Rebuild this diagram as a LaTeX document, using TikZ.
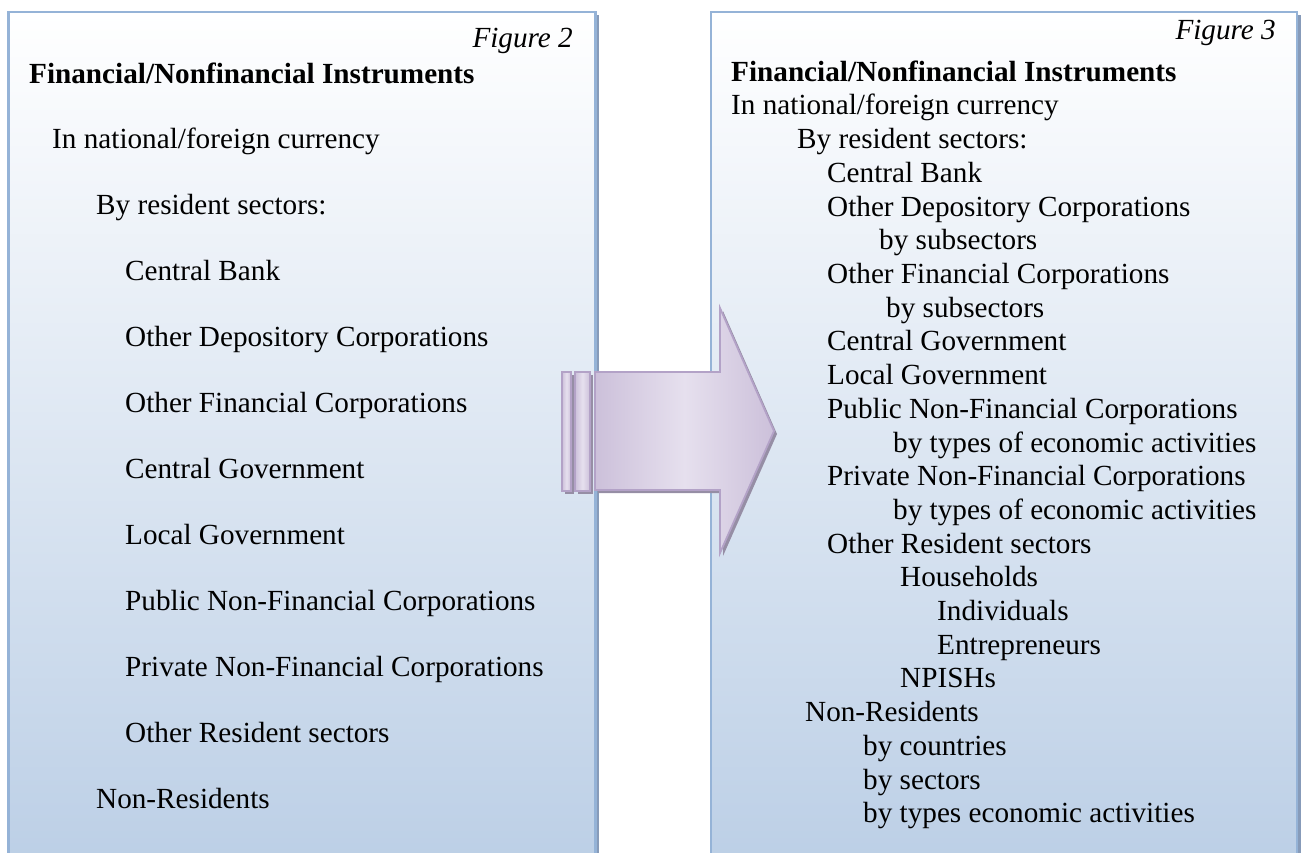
\documentclass[tikz,border=0pt]{standalone}
\usepackage{fontspec}
\setmainfont{Liberation Serif}
\definecolor{panelborder}{RGB}{149,179,215}
\definecolor{panelbot}{RGB}{185,205,229}
\definecolor{panelshadow}{RGB}{135,155,185}
\definecolor{arrowborder}{RGB}{179,162,199}
\definecolor{arrowlight}{RGB}{230,224,238}
\definecolor{arrowdark}{RGB}{204,192,218}
\definecolor{arrowshadow}{RGB}{150,142,165}
\tikzset{
  txt/.style={anchor=base west, inner sep=0pt, font=\fontsize{29.2}{33.7}\selectfont},
  ttl/.style={anchor=base west, inner sep=0pt, font=\fontsize{29.2}{33.7}\selectfont\bfseries},
  figlabel/.style={anchor=base east, inner sep=0pt, font=\fontsize{29.2}{33.7}\selectfont\itshape},
  panel/.style={draw=panelborder, line width=2.5pt, top color=white, bottom color=panelbot},
  panelshade/.style={fill=panelshadow},
  arrowpart/.style={draw=arrowborder, line width=1.8pt, shading=axis, shading angle=45, left color=arrowdark, right color=arrowdark, middle color=arrowlight},
  arrowshade/.style={fill=arrowshadow},
}
\begin{document}
\begin{tikzpicture}[x=1pt,y=-1pt]
\useasboundingbox (0,0) rectangle (1304,853);
\begin{scope}
\clip (0,0) rectangle (1304,853);
% panels
\fill[panelshade] (11.5,15) rectangle (599,900);
\path[panel] (8.5,12) rectangle (595.5,900);
\fill[panelshade] (714,15) rectangle (1300.5,900);
\path[panel] (711,12) rectangle (1297,900);
\end{scope}
% arrow shadow
\fill[arrowshade] (565,375) rectangle (574,494);
\fill[arrowshade] (578,375) rectangle (593,494);
\fill[arrowshade] (598,375) -- (723,375) -- (723,311) -- (777,434) -- (723,556) -- (723,493) -- (598,493) -- cycle;
% arrow
\path[arrowpart] (562,372) rectangle (571,491);
\path[arrowpart] (575,372) rectangle (590,491);
\path[arrowpart] (595,372) -- (720,372) -- (720,308) -- (774,431) -- (720,553) -- (720,490) -- (595,490) -- cycle;
% left panel text
\node[figlabel] (lfig) at (573,48) {Figure 2};
\node[ttl] (ltitle) at (29,84) {Financial/Nonfinancial Instruments};
\node[txt] (l1) at (52,148.3) {In national/foreign currency};
\node[txt] (l2) at (96,214.3) {By resident sectors:};
\node[txt] (l3) at (125,280.3) {Central Bank};
\node[txt] (l4) at (125,346.3) {Other Depository Corporations};
\node[txt] (l5) at (125,412.3) {Other Financial Corporations};
\node[txt] (l6) at (125,478.3) {Central Government};
\node[txt] (l7) at (125,544.3) {Local Government};
\node[txt] (l8) at (125,610.3) {Public Non-Financial Corporations};
\node[txt] (l9) at (125,676.3) {Private Non-Financial Corporations};
\node[txt] (l10) at (125,742.3) {Other Resident sectors};
\node[txt] (l11) at (96,808.3) {Non-Residents};
% right panel text
\node[figlabel] (rfig) at (1276,39.5) {Figure 3};
\node[ttl] (rtitle) at (731,81.3) {Financial/Nonfinancial Instruments};
\node[txt] (r1) at (731,115) {In national/foreign currency};
\node[txt] (r2) at (797,148.7) {By resident sectors:};
\node[txt] (r3) at (827,182.4) {Central Bank};
\node[txt] (r4) at (827,216.1) {Other Depository Corporations};
\node[txt] (r5) at (879,249.8) {by subsectors};
\node[txt] (r6) at (827,283.5) {Other Financial Corporations};
\node[txt] (r7) at (886,317.2) {by subsectors};
\node[txt] (r8) at (827,350.9) {Central Government};
\node[txt] (r9) at (827,384.6) {Local Government};
\node[txt] (r10) at (827,418.3) {Public Non-Financial Corporations};
\node[txt] (r11) at (893,452) {by types of economic activities};
\node[txt] (r12) at (827,485.7) {Private Non-Financial Corporations};
\node[txt] (r13) at (893,519.4) {by types of economic activities};
\node[txt] (r14) at (827,553.1) {Other Resident sectors};
\node[txt] (r15) at (900,586.8) {Households};
\node[txt] (r16) at (937,620.5) {Individuals};
\node[txt] (r17) at (937,654.2) {Entrepreneurs};
\node[txt] (r18) at (900,687.9) {NPISHs};
\node[txt] (r19) at (805,721.6) {Non-Residents};
\node[txt] (r20) at (863,755.3) {by countries};
\node[txt] (r21) at (863,789) {by sectors};
\node[txt] (r22) at (863,822.7) {by types economic activities};
\end{tikzpicture}
\end{document}
